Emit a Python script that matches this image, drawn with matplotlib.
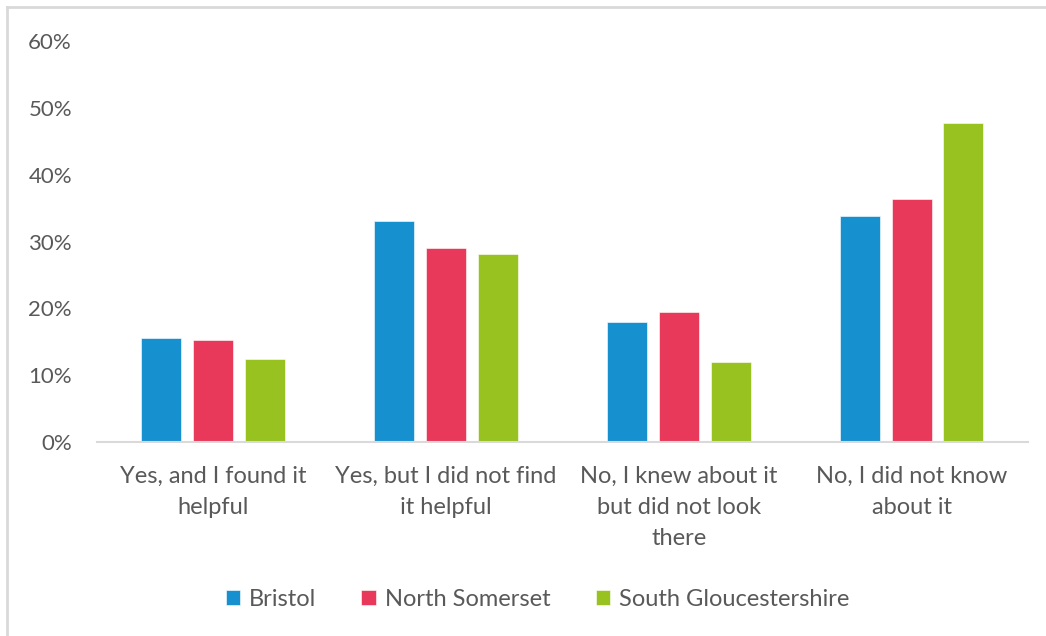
import numpy as np
import matplotlib.pyplot as plt
from matplotlib.lines import Line2D
from matplotlib.ticker import PercentFormatter

categories = ['Yes, and I found it\nhelpful',
              'Yes, but I did not find\nit helpful',
              'No, I knew about it\nbut did not look\nthere',
              'No, I did not know\nabout it']
bristol = [15.5, 33.0, 18.0, 33.8]
north_somerset = [15.3, 29.1, 19.5, 36.3]
south_glos = [12.4, 28.1, 11.9, 47.8]

series = [('Bristol', bristol, '#1790d0'),
          ('North Somerset', north_somerset, '#e8395a'),
          ('South Gloucestershire', south_glos, '#97c21f')]

grey = '#595959'
plt.rcParams['font.family'] = ['Lato', 'DejaVu Sans']

fig = plt.figure(figsize=(10.46, 6.36), dpi=100)
ax = fig.add_axes([0.0927, 0.305, 0.890, 0.6305])

x = np.arange(len(categories))
width = 0.172
step = 0.223
for i, (name, vals, col) in enumerate(series):
    ax.bar(x + (i - 1) * step, vals, width, color=col, label=name,
           edgecolor='white', linewidth=0.4)

ax.set_xlim(-0.5, 3.5)
ax.set_ylim(0, 60)
ax.set_yticks(range(0, 61, 10))
ax.yaxis.set_major_formatter(PercentFormatter(decimals=0))
ax.set_xticks(x)
ax.set_xticklabels(categories, linespacing=1.6)
ax.tick_params(axis='both', length=0, colors=grey)
ax.tick_params(axis='y', labelsize=16, pad=18)
ax.tick_params(axis='x', labelsize=17, pad=17)

for s in ['top', 'right', 'left']:
    ax.spines[s].set_visible(False)
ax.spines['bottom'].set_color('#d9d9d9')
ax.spines['bottom'].set_linewidth(1.5)

leg = fig.legend(loc='center', bbox_to_anchor=(0.514, 0.058), ncol=3,
                 frameon=False, fontsize=17, handlelength=0.6,
                 handleheight=0.6, handletextpad=0.4, columnspacing=1.9)
for t in leg.get_texts():
    t.set_color(grey)

# outer chart border (only top and left edges show)
fig.add_artist(Line2D([0.0067, 1.0], [0.989, 0.989], transform=fig.transFigure,
                      color='#d9d9d9', linewidth=2))
fig.add_artist(Line2D([0.0067, 0.0067], [0.0, 0.989], transform=fig.transFigure,
                      color='#d9d9d9', linewidth=2))

fig.savefig('out.png', dpi=100, facecolor='white')
